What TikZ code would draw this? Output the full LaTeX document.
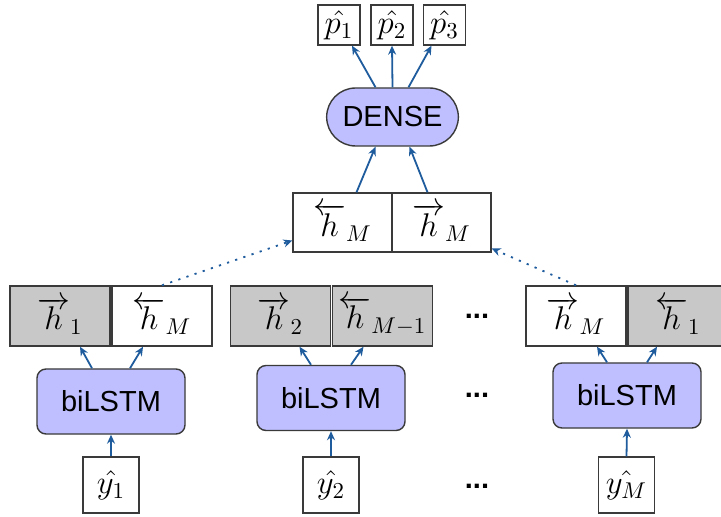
\documentclass[tikz,border=0pt]{standalone}
\usepackage{fontspec}
\setsansfont{Liberation Sans}
\usetikzlibrary{arrows.meta,shapes.misc}
\definecolor{lav}{HTML}{BFBFFF}
\definecolor{cellgray}{HTML}{C8C8C8}
\definecolor{arrblue}{HTML}{1F5C9E}
\definecolor{edge}{HTML}{3A3A3A}
% math labels, slightly enlarged beyond the 14.4pt design size
\newcommand\mlab[1]{\scalebox{1.14}{$#1$}}
\tikzset{
  box/.style={draw=edge, line width=0.7pt, fill=white, inner sep=0pt, font=\fontsize{14.4}{17}\selectfont},
  grayed/.style={box, fill=cellgray},
  hcell/.style={minimum width=50pt, minimum height=30pt},
  outbox/.style={box, minimum width=21pt, minimum height=20pt},
  inbox/.style={box, minimum width=28pt, minimum height=28pt},
  lstm/.style={draw=edge, line width=0.7pt, fill=lav, rounded corners=4.5pt,
    minimum width=74pt, minimum height=32.5pt, font=\sffamily\fontsize{14.5}{16}\selectfont},
  dense/.style={draw=edge, line width=0.7pt, fill=lav, rounded rectangle,
    minimum width=72.5pt, minimum height=29pt, font=\sffamily\fontsize{14.5}{16}\selectfont},
  arr/.style={draw=arrblue, line width=0.9pt, -{Stealth[length=4.5pt,width=4pt]}},
  dotarr/.style={arr, dash pattern=on 1.1pt off 3.2pt},
  dots/.style={font=\sffamily\bfseries\fontsize{14.5}{16}\selectfont}
}
\begin{document}
\begin{tikzpicture}[x=0.5pt,y=-0.5pt]
\clip (0,0) rectangle (721,517);
\fill[white] (0,0) rectangle (721,517);

% outputs and dense layer
\node[outbox] (p1) at (339,25) {\mlab{\hat{p_1}}};
\node[outbox] (p2) at (392,25) {\mlab{\hat{p_2}}};
\node[outbox] (p3) at (444.5,25) {\mlab{\hat{p_3}}};
\node[dense] (dn) at (392.5,117) {DENSE};

% concatenated final states
\node[box,minimum width=49.5pt,minimum height=29.5pt] (hl) at (342.5,222.5) {\mlab{\overleftarrow{h}_M}};
\node[box,minimum width=49.5pt,minimum height=29.5pt] (hr) at (441.5,222.5) {\mlab{\overrightarrow{h}_M}};

% per-sequence states
\node[grayed,hcell] (a1) at (60,316) {\mlab{\overrightarrow{h}_1}};
\node[box,hcell] (a2) at (162,316) {\mlab{\overleftarrow{h}_M}};
\node[grayed,hcell] (b1) at (280.5,316) {\mlab{\overrightarrow{h}_2}};
\node[grayed,hcell] (b2) at (382.5,316) {\mlab{\overleftarrow{h}_{M-1}}};
\node[box,hcell] (c1) at (576,316) {\mlab{\overrightarrow{h}_M}};
\node[grayed,hcell] (c2) at (678,316) {\mlab{\overleftarrow{h}_1}};

% biLSTM blocks
\node[lstm] (l1) at (111,401.5) {biLSTM};
\node[lstm] (l2) at (331,398) {biLSTM};
\node[lstm] (l3) at (627,395.5) {biLSTM};

% inputs
\node[inbox] (y1) at (111,485) {\mlab{\hat{y_1}}};
\node[inbox] (y2) at (331,485) {\mlab{\hat{y_2}}};
\node[inbox] (y3) at (626.5,485) {\mlab{\hat{y_M}}};

% ellipsis
\node[dots] (d1) at (477,316) {...};
\node[dots] (d2) at (477,395) {...};
\node[dots] (d3) at (477,486) {...};

% connectors
\draw[arr] ([xshift=-8.5pt]dn.north) -- ([xshift=6.5pt]p1.south);
\draw[arr] (dn.north) -- (p2.south);
\draw[arr] ([xshift=8pt]dn.north) -- ([xshift=-6.5pt]p3.south);
\draw[arr] ([xshift=7pt]hl.north) -- ([xshift=-8.5pt]dn.south);
\draw[arr] ([xshift=-7pt]hr.north) -- ([xshift=8.5pt]dn.south);

\draw[arr] ([xshift=-9.5pt]l1.north) -- ([xshift=10pt]a1.south);
\draw[arr] ([xshift=9.5pt]l1.north) -- ([xshift=-9.5pt]a2.south);
\draw[arr] ([xshift=-10pt]l2.north) -- ([xshift=9.5pt]b1.south);
\draw[arr] ([xshift=10pt]l2.north) -- ([xshift=-9.5pt]b2.south);
\draw[arr] ([xshift=-10pt]l3.north) -- ([xshift=10.5pt]c1.south);
\draw[arr] ([xshift=10pt]l3.north) -- ([xshift=-10.5pt]c2.south);

\draw[arr] (y1.north) -- (l1.south);
\draw[arr] (y2.north) -- (l2.south);
\draw[arr] (y3.north) -- (l3.south);

\draw[dotarr] (a2.north) -- ([yshift=-9pt]hl.west);
\draw[dotarr] (c1.north) -- ([yshift=-13pt]hr.east);
\end{tikzpicture}
\end{document}
